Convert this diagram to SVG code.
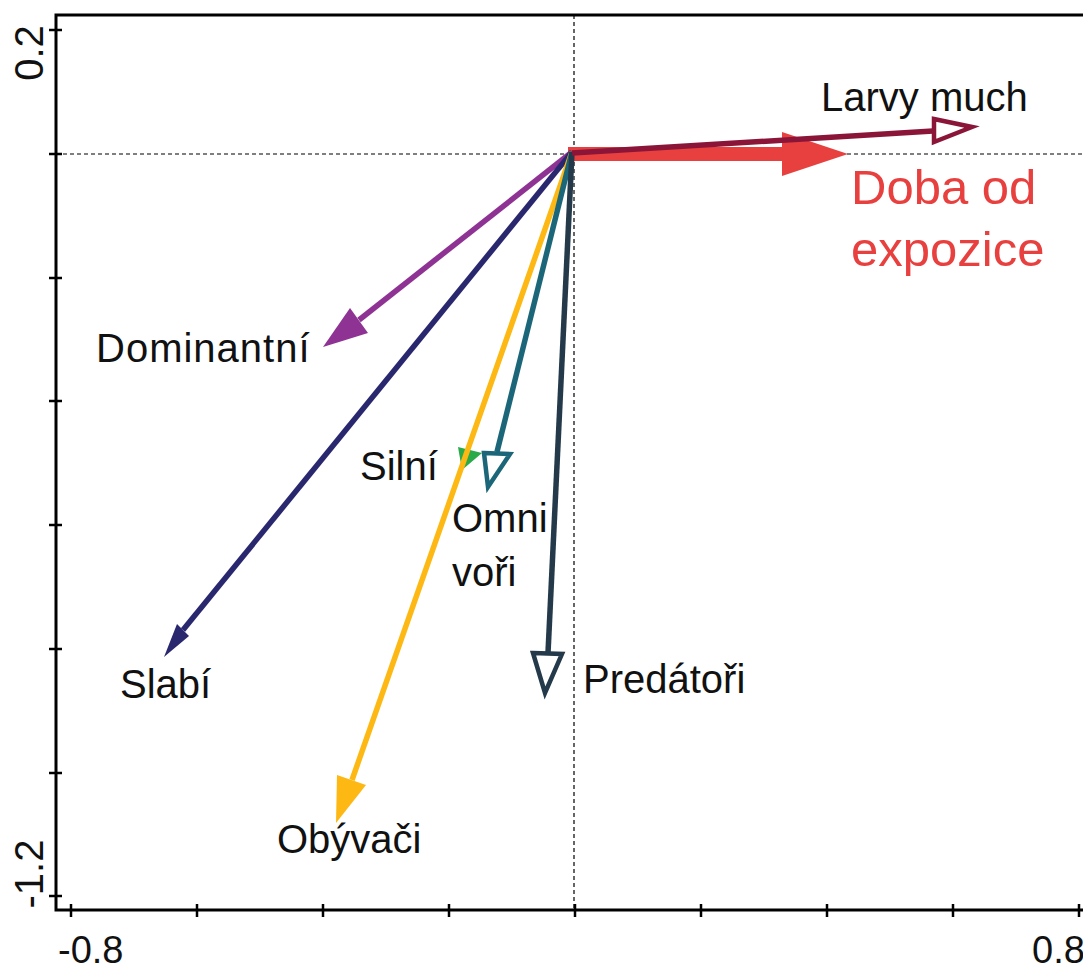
<svg xmlns="http://www.w3.org/2000/svg" width="1083" height="971" viewBox="0 0 1083 971">
<style>
.lbl{font-family:"Liberation Sans",Arial,sans-serif;font-size:40px;fill:#111}
.ax{font-family:"Liberation Sans",Arial,sans-serif;font-size:38px;fill:#111}
.frame{stroke:#000;stroke-width:3;fill:none}
.tick{stroke:#000;stroke-width:2.5}
.dash{stroke:#000;stroke-width:1.2;stroke-dasharray:4 3;fill:none}
.vec{stroke-width:5.5;fill:none;stroke-linecap:butt}
</style>
<rect width="1083" height="971" fill="#fff"/>
<g id="axes">
<line class="dash" x1="56" y1="154" x2="1083" y2="154"/>
<line class="dash" x1="574" y1="15" x2="574" y2="910"/>
<path class="frame" d="M1083,15 H56 V910 H1083"/>
<g class="tick">
<line x1="49" y1="30" x2="62" y2="30"/>
<line x1="49" y1="154" x2="62" y2="154"/>
<line x1="49" y1="278" x2="62" y2="278"/>
<line x1="49" y1="401" x2="62" y2="401"/>
<line x1="49" y1="525" x2="62" y2="525"/>
<line x1="49" y1="649" x2="62" y2="649"/>
<line x1="49" y1="773" x2="62" y2="773"/>
<line x1="49" y1="896" x2="62" y2="896"/>
<line x1="71" y1="904" x2="71" y2="917"/>
<line x1="197" y1="904" x2="197" y2="917"/>
<line x1="323" y1="904" x2="323" y2="917"/>
<line x1="449" y1="904" x2="449" y2="917"/>
<line x1="575" y1="904" x2="575" y2="917"/>
<line x1="701" y1="904" x2="701" y2="917"/>
<line x1="827" y1="904" x2="827" y2="917"/>
<line x1="953" y1="904" x2="953" y2="917"/>
<line x1="1079" y1="904" x2="1079" y2="917"/>
</g>
<text class="ax" transform="translate(43,53) rotate(-90)" text-anchor="middle" style="font-size:40px">0.2</text>
<text class="ax" transform="translate(43,874) rotate(-90)" text-anchor="middle" style="font-size:40px">-1.2</text>
<text class="ax" x="58" y="963">-0.8</text>
<text class="ax" x="1032" y="963">0.8</text>
</g>
<g id="connectors">
<g id="v-doba">
<line x1="568" y1="154" x2="785" y2="154" stroke="#E8403F" stroke-width="14"/>
<polygon points="782,132 848,154 782,176" fill="#E8403F"/>
</g>
<g id="v-silni">
<line x1="572" y1="152" x2="467.5" y2="450.3" stroke="#2BAA4A" stroke-width="4"/>
<polygon points="458,447 482,453 462,470" fill="#2BAA4A"/>
</g>
<g id="v-dominantni">
<line class="vec" x1="572" y1="152" x2="359" y2="320" stroke="#8E3393"/>
<polygon points="350,308 368,333 323,347" fill="#8E3393"/>
</g>
<g id="v-slabi">
<line class="vec" x1="572" y1="152" x2="183" y2="630" stroke="#29286F"/>
<polygon points="177,624 189,636 164,657" fill="#29286F"/>
</g>
<g id="v-obyvaci">
<line class="vec" x1="572" y1="152" x2="352" y2="780" stroke="#FDB813" stroke-width="6"/>
<polygon points="337,775 366,785 336,823" fill="#FDB813"/>
</g>
<g id="v-omni">
<line class="vec" x1="572" y1="152" x2="497" y2="452" stroke="#1B6678"/>
<polygon points="484,453 510,454 488,487" fill="#fff" stroke="#1B6678" stroke-width="4.5"/>
</g>
<g id="v-predatori">
<line class="vec" x1="572" y1="152" x2="548" y2="653" stroke="#243A4B"/>
<polygon points="533,653 562,654 545,693" fill="#fff" stroke="#243A4B" stroke-width="4.5"/>
</g>
<g id="v-larvy">
<line x1="572" y1="153" x2="933" y2="131" stroke="#8A1538" stroke-width="5.5"/>
<polygon points="934,119 972,127 934,142" fill="#fff" stroke="#8A1538" stroke-width="4.5"/>
</g>
</g>
<g id="n-larvy"><text class="lbl" x="821" y="111">Larvy much</text></g>
<g id="n-doba"><text class="lbl" x="851" y="204" style="font-size:49px;fill:#E8403F">Doba od</text><text class="lbl" x="851" y="266" style="font-size:49px;fill:#E8403F">expozice</text></g>
<g id="n-dominantni"><text class="lbl" x="96" y="362" style="letter-spacing:1px">Dominantní</text></g>
<g id="n-silni"><text class="lbl" x="360" y="480">Silní</text></g>
<g id="n-omni"><text class="lbl" x="452" y="532">Omni</text><text class="lbl" x="452" y="586">voři</text></g>
<g id="n-slabi"><text class="lbl" x="120" y="698">Slabí</text></g>
<g id="n-predatori"><text class="lbl" x="583" y="693">Predátoři</text></g>
<g id="n-obyvaci"><text class="lbl" x="277" y="853">Obývači</text></g>
</svg>
